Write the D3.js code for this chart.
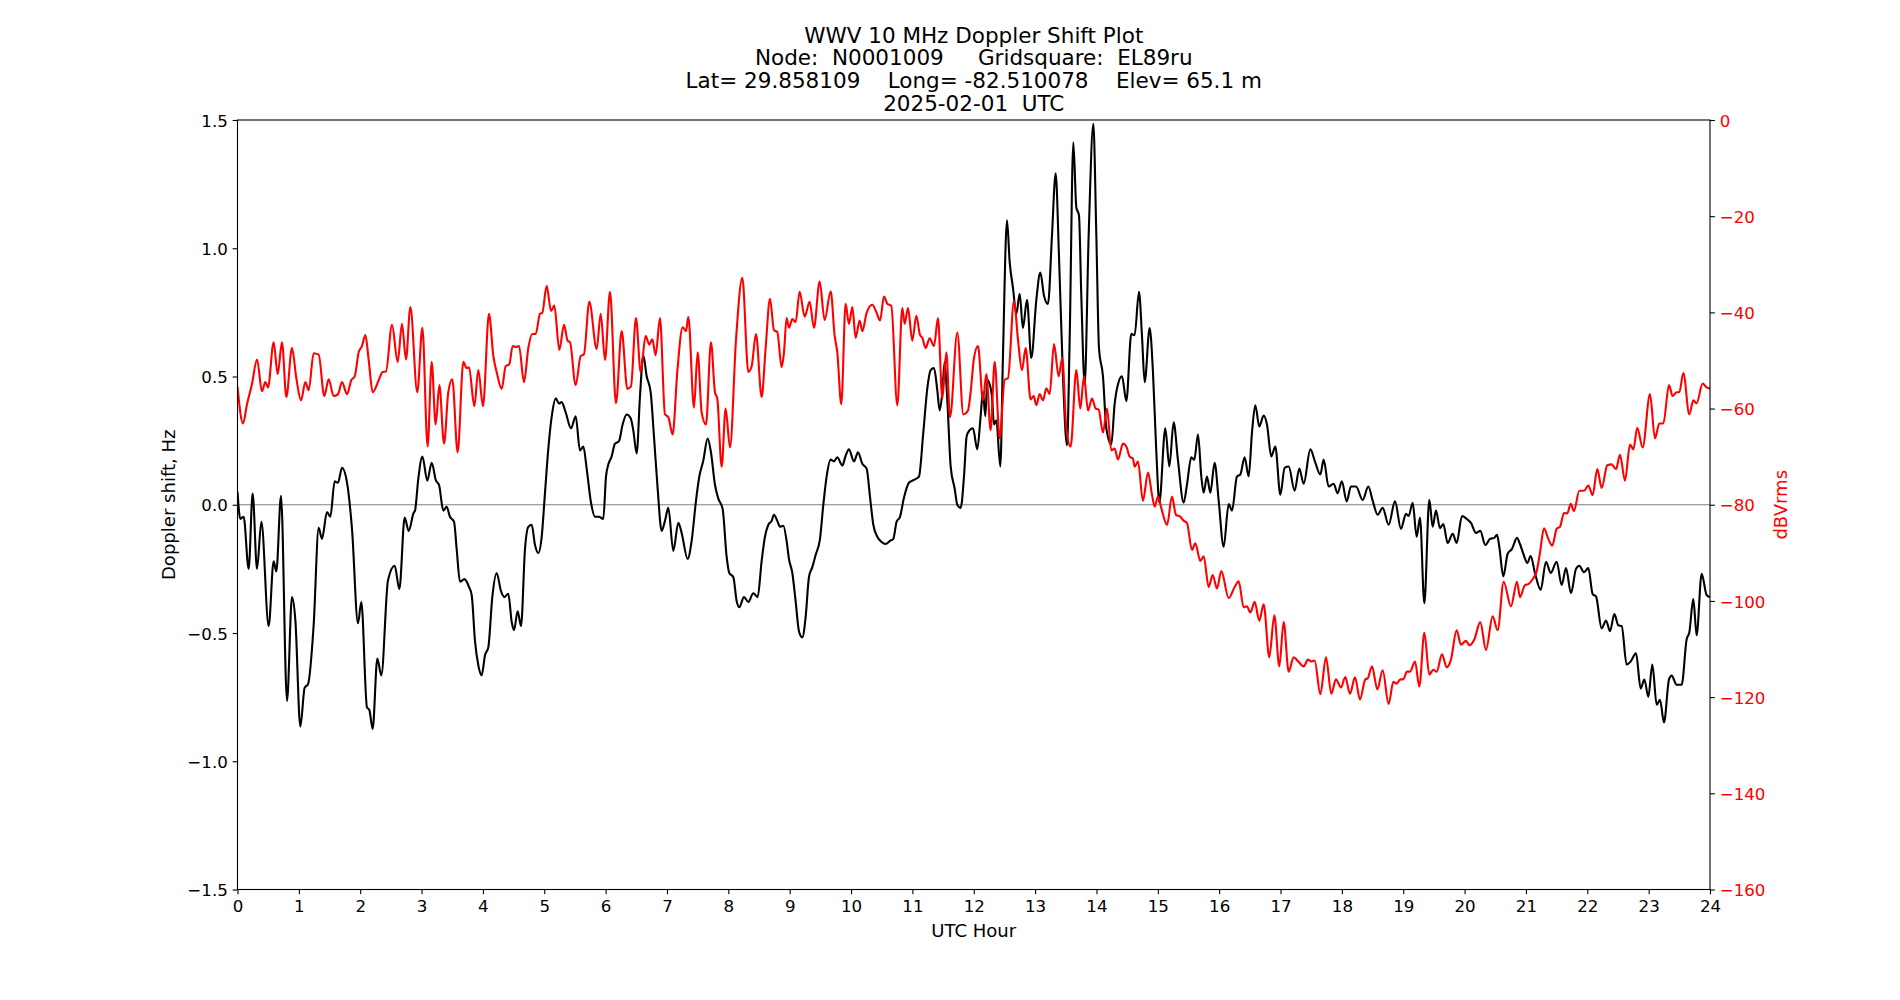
<!DOCTYPE html>
<html><head><meta charset="utf-8">
<script src="https://cdn.jsdelivr.net/npm/d3@7"></script>
<style>
body{margin:0;background:#fff;}
text{font-family:"DejaVu Sans",sans-serif;}
</style>
</head><body>
<svg id="chart" width="1900" height="1000"></svg>
<script>
// ---------------- data ----------------
const titleLines = [
  "WWV 10 MHz Doppler Shift Plot",
  "Node:  N0001009     Gridsquare:  EL89ru",
  "Lat= 29.858109    Long= -82.510078    Elev= 65.1 m",
  "2025-02-01  UTC"
];
const xLabel = "UTC Hour";
const leftLabel = "Doppler shift, Hz";
const rightLabel = "dBVrms";

const xTicks = [0,1,2,3,4,5,6,7,8,9,10,11,12,13,14,15,16,17,18,19,20,21,22,23,24];
const leftTicks = [-1.5,-1.0,-0.5,0.0,0.5,1.0,1.5];
const rightTicks = [-160,-140,-120,-100,-80,-60,-40,-20,0];

const dopplerHours = [
0.0,0.046,0.10,0.182,0.247,0.318,0.389,0.508,0.589,0.633,0.709,0.807,0.888,0.943,1.024,1.095,1.149,1.241,1.323,1.377,1.459,1.513,1.584,1.638,1.703,1.785,1.866,1.964,2.018,2.11,2.149,2.203,2.279,2.344,2.453,2.562,2.638,2.725,2.79,2.871,
2.893,2.947,3.013,3.094,3.165,3.235,3.284,3.355,3.409,3.463,3.529,3.572,3.626,3.697,3.773,3.817,3.871,3.925,3.98,4.034,4.088,4.153,4.224,4.295,4.349,4.414,4.469,4.507,4.566,4.621,4.686,4.74,4.795,4.849,4.903,4.958,5.012,5.066,5.131,5.186,5.24,5.283,5.349,5.436,5.512,5.582,5.637,5.691,5.762,5.827,5.892,
5.962,6.006,6.044,6.098,6.152,6.218,6.277,6.343,6.408,6.451,6.506,6.56,6.614,6.669,6.734,6.788,6.848,6.913,6.967,7.022,7.103,7.185,7.239,7.337,7.402,7.473,7.527,7.592,7.663,7.717,7.782,7.837,7.907,7.973,8.016,8.081,8.136,8.179,8.255,8.326,8.407,8.478,8.543,8.597,8.652,8.706,8.744,8.798,8.842,8.896,
8.95,8.988,9.043,9.097,9.151,9.206,9.26,9.314,9.369,9.423,9.494,9.548,9.602,9.668,9.722,9.776,9.858,9.912,9.966,10.048,10.113,10.184,10.254,10.309,10.363,10.428,10.493,10.564,10.635,10.689,10.743,10.798,10.863,10.944,11.026,11.107,11.178,11.243,11.298,11.352,11.406,11.444,11.488,11.526,11.569,11.624,11.689,11.732,11.787,11.841,11.884,
11.93,11.987,12.058,12.112,12.15,12.189,12.221,12.259,12.297,12.33,12.368,12.433,12.476,12.542,12.585,12.639,12.694,12.748,12.802,12.868,12.938,13.02,13.085,13.145,13.21,13.275,13.335,13.389,13.454,13.52,13.563,13.623,13.672,13.715,13.753,13.808,13.873,13.949,13.998,14.041,14.106,14.161,14.242,14.296,14.351,14.416,14.487,14.568,14.622,14.693,14.742,14.786,14.867,14.921,14.976,
15.025,15.122,15.188,15.258,15.329,15.421,15.475,15.546,15.595,15.655,15.709,15.747,15.801,15.856,15.926,15.992,16.073,16.155,16.209,16.29,16.345,16.415,16.481,16.535,16.589,16.654,16.725,16.779,16.85,16.915,16.997,17.067,17.133,17.23,17.306,17.377,17.486,17.567,17.649,17.703,17.784,17.866,
17.93,18.0,18.078,18.148,18.23,18.339,18.431,18.502,18.583,18.665,18.762,18.866,18.963,19.045,19.088,19.154,19.219,19.273,19.344,19.425,19.48,19.534,19.599,19.653,19.724,19.806,19.871,19.958,20.034,20.104,20.186,20.256,20.338,20.414,20.485,20.528,20.566,20.631,20.702,20.773,20.854,
20.903,20.957,21.023,21.077,21.147,21.24,21.327,21.403,21.501,21.582,21.653,21.734,21.816,21.87,21.946,22.017,22.087,22.142,22.234,22.305,22.37,22.441,22.506,22.56,22.642,22.707,22.794,22.87,22.93,22.995,23.06,23.131,23.185,23.25,23.332,23.375,23.456,23.538,23.619,23.663,23.728,23.782,23.864,23.945,24.0
];
const dopplerHz = [
0.05,-0.055,-0.047,-0.25,0.044,-0.25,-0.066,-0.473,-0.22,-0.26,0.035,-0.765,-0.36,-0.45,-0.865,-0.713,-0.70,-0.47,-0.09,-0.133,-0.028,-0.047,0.091,0.086,0.144,0.086,-0.094,-0.462,-0.379,-0.79,-0.80,-0.874,-0.60,-0.665,-0.294,-0.238,-0.329,-0.05,-0.102,-0.031,
-0.023,0.102,0.188,0.094,0.164,0.094,0.078,-0.023,-0.008,-0.047,-0.066,-0.172,-0.30,-0.29,-0.32,-0.352,-0.532,-0.626,-0.665,-0.587,-0.556,-0.36,-0.266,-0.337,-0.36,-0.347,-0.457,-0.489,-0.415,-0.473,-0.172,-0.086,-0.078,-0.157,-0.188,-0.125,0.047,0.219,0.36,0.415,0.395,0.40,0.36,0.298,0.345,0.212,0.227,0.141,0.008,-0.047,-0.047,
-0.055,0.11,0.157,0.188,0.238,0.248,0.313,0.352,0.337,0.29,0.20,0.423,0.583,0.501,0.439,0.266,0.063,-0.102,-0.063,-0.012,-0.18,-0.07,-0.11,-0.211,-0.141,0.016,0.11,0.172,0.258,0.204,0.078,0.024,-0.016,-0.204,-0.266,-0.282,-0.376,-0.399,-0.36,-0.379,-0.345,-0.36,-0.219,-0.125,-0.078,-0.063,-0.039,-0.063,-0.086,-0.082,
-0.141,-0.211,-0.266,-0.376,-0.493,-0.517,-0.438,-0.282,-0.243,-0.196,-0.133,0.0,0.11,0.176,0.169,0.185,0.153,0.191,0.216,0.169,0.204,0.16,0.141,0.031,-0.078,-0.125,-0.144,-0.153,-0.141,-0.133,-0.066,-0.047,0.028,0.086,0.097,0.11,0.282,0.454,0.525,0.533,0.446,0.368,0.439,0.556,0.407,0.149,0.063,0.0,-0.012,0.11,0.266,
0.29,0.298,0.216,0.345,0.439,0.345,0.486,0.47,0.423,0.313,0.329,0.149,0.58,1.109,0.948,0.846,0.744,0.822,0.689,0.799,0.572,0.799,0.905,0.815,0.783,1.05,1.292,0.971,0.501,0.232,0.642,1.413,1.159,1.128,0.815,0.47,1.05,1.485,1.05,0.611,0.501,0.298,0.235,0.392,0.47,0.501,0.404,0.666,0.661,0.83,0.658,0.478,0.689,0.517,0.204,
0.008,0.298,0.149,0.321,0.172,0.008,0.078,0.185,0.176,0.274,0.11,0.047,0.11,0.047,0.164,0.016,-0.164,0.003,-0.023,0.11,0.118,0.185,0.11,0.282,0.388,0.305,0.348,0.313,0.188,0.227,0.039,0.144,0.149,0.055,0.141,0.082,0.216,0.164,0.118,0.176,0.071,0.082,
0.045,0.091,0.013,0.071,0.071,0.019,0.071,0.016,-0.039,-0.012,-0.078,0.013,-0.094,-0.035,-0.044,0.008,-0.125,-0.05,-0.384,0.019,-0.086,-0.023,-0.091,-0.075,-0.149,-0.113,-0.149,-0.044,-0.055,-0.071,-0.11,-0.102,-0.157,-0.133,-0.129,-0.117,-0.164,-0.279,-0.191,-0.172,-0.129,
-0.153,-0.191,-0.227,-0.2,-0.266,-0.332,-0.222,-0.266,-0.222,-0.313,-0.247,-0.345,-0.25,-0.238,-0.263,-0.247,-0.348,-0.357,-0.482,-0.451,-0.493,-0.426,-0.47,-0.473,-0.623,-0.611,-0.579,-0.717,-0.681,-0.749,-0.623,-0.78,-0.76,-0.849,-0.681,-0.666,-0.702,-0.702,-0.525,-0.498,-0.368,-0.509,-0.269,-0.352,-0.36
];

const powerHours = [
0.0,0.090,0.155,0.236,0.318,0.399,0.454,0.497,0.589,0.655,0.725,0.796,0.888,0.959,1.035,1.106,1.16,1.241,1.323,1.415,1.486,1.567,1.638,1.703,1.785,1.855,1.91,1.975,2.029,2.084,2.138,2.203,2.301,2.366,2.42,2.518,2.611,2.681,2.746,2.817,
2.93,3.013,3.099,3.165,3.23,3.29,3.366,3.436,3.501,3.588,3.681,3.735,3.773,3.86,3.925,4.001,4.099,4.17,4.224,4.306,4.371,4.43,4.485,4.534,4.588,4.67,4.74,4.805,4.86,4.93,4.968,5.039,5.11,5.164,5.245,5.322,5.381,5.419,5.512,5.593,5.647,5.734,5.854,
5.92,5.99,6.071,6.169,6.261,6.354,6.413,6.495,6.571,6.652,6.712,6.761,6.815,6.886,6.967,7.022,7.092,7.168,7.255,7.31,7.348,7.44,7.5,7.565,7.636,7.717,7.782,7.82,7.891,7.956,8.027,8.125,8.228,8.326,8.38,8.451,8.543,8.608,8.679,8.744,8.798,8.869,
8.907,8.95,8.988,9.043,9.097,9.162,9.244,9.325,9.396,9.488,9.57,9.668,9.733,9.776,9.841,9.912,9.966,10.021,10.075,10.14,10.184,10.254,10.347,10.417,10.472,10.537,10.591,10.656,10.754,10.836,10.874,10.928,10.999,11.064,11.124,11.162,11.216,11.281,11.352,11.417,11.488,11.553,11.613,11.732,11.83,
11.906,11.949,12.004,12.069,12.15,12.205,12.275,12.341,12.422,12.504,12.558,12.656,12.721,12.786,12.846,12.927,12.976,13.02,13.074,13.128,13.183,13.237,13.308,13.384,13.443,13.509,13.579,13.672,13.737,13.797,13.862,13.927,13.987,14.036,14.106,14.172,14.242,14.296,14.351,14.432,14.487,14.541,14.595,14.622,14.677,14.758,14.84,
14.905,14.948,15.003,15.057,15.15,15.231,15.296,15.367,15.421,15.475,15.557,15.611,15.693,15.747,15.829,15.894,15.964,16.035,16.155,16.252,16.318,16.399,16.453,16.508,16.578,16.654,16.725,16.817,16.899,16.98,17.051,17.133,17.214,17.296,17.377,17.448,17.502,17.556,17.649,17.741,17.828,
17.904,17.985,18.056,18.132,18.214,18.295,18.382,18.42,18.491,18.578,18.665,18.762,18.839,18.893,18.953,19.001,19.061,19.11,19.192,19.262,19.344,19.425,19.49,19.545,19.632,19.708,19.778,19.871,19.941,20.023,20.077,20.159,20.256,20.349,20.457,20.539,20.637,20.756,20.854,
20.903,20.984,21.039,21.109,21.175,21.229,21.294,21.365,21.43,21.501,21.555,21.62,21.675,21.729,21.783,21.87,21.946,22.017,22.087,22.163,22.234,22.326,22.397,22.468,22.533,22.614,22.696,22.75,22.815,22.902,23.022,23.103,23.174,23.239,23.332,23.391,23.456,23.5,23.565,23.663,23.728,23.782,23.88,23.945,24.0
];
const powerDb = [
-55.5,-63.1,-59.1,-54.9,-49.8,-56.4,-54.5,-55.6,-46.2,-52.8,-46.2,-57.6,-47.4,-53.7,-58.3,-54.5,-56.2,-48.5,-48.8,-57.4,-53.9,-57.4,-57.0,-54.5,-57.0,-54.1,-53.3,-48.3,-47.0,-44.7,-49.9,-56.6,-54.1,-52.4,-52.3,-42.6,-50.3,-42.4,-49.8,-38.9,
-56.6,-43.2,-67.9,-50.3,-63.3,-55.1,-67.3,-56.6,-53.9,-69.1,-50.3,-51.6,-51.4,-59.5,-52.0,-59.5,-40.3,-49.1,-52.4,-55.9,-51.2,-50.8,-47.0,-47.2,-47.0,-54.5,-47.4,-44.5,-44.5,-40.3,-40.1,-34.5,-39.7,-38.6,-47.8,-42.6,-45.9,-46.2,-55.1,-49.1,-48.7,-37.8,-47.6,
-40.3,-49.9,-35.7,-58.9,-43.9,-55.9,-55.4,-41.2,-52.4,-44.9,-46.7,-45.6,-48.9,-41.2,-61.2,-61.8,-65.4,-52.4,-43.1,-43.9,-40.9,-59.8,-48.3,-60.8,-63.3,-46.2,-56.6,-57.9,-72.1,-60.0,-68.1,-45.7,-32.8,-52.4,-51.2,-44.5,-57.6,-47.4,-37.2,-43.7,-44.1,-51.4,
-48.3,-41.2,-43.2,-41.4,-42.0,-35.7,-40.9,-37.8,-43.2,-33.6,-41.6,-35.6,-44.9,-48.3,-59.1,-38.2,-42.4,-38.9,-45.3,-41.7,-43.9,-40.1,-38.4,-40.1,-41.7,-36.7,-38.2,-38.6,-59.3,-39.1,-42.4,-39.1,-45.9,-40.7,-44.7,-45.3,-47.4,-45.4,-47.0,-41.2,-57.9,-48.3,-61.8,-44.2,-61.2,
-60.4,-56.6,-49.5,-47.0,-58.3,-52.8,-64.5,-50.3,-66.2,-54.0,-53.7,-37.6,-45.7,-52.0,-47.4,-58.1,-57.4,-59.3,-57.0,-58.3,-55.8,-57.0,-46.6,-53.3,-49.5,-64.1,-67.9,-52.0,-60.0,-53.3,-60.4,-57.9,-60.0,-60.2,-65.0,-60.0,-68.7,-68.3,-70.6,-67.3,-67.9,-70.0,-70.4,-72.1,-71.0,-79.2,-73.3,
-77.9,-80.4,-78.3,-80.7,-84.2,-78.3,-82.1,-82.5,-83.3,-83.8,-89.4,-88.0,-91.7,-90.7,-97.1,-94.6,-97.4,-93.8,-99.4,-97.1,-95.9,-101.3,-101.1,-102.4,-100.2,-104.1,-100.7,-111.7,-103.0,-113.6,-104.4,-114.7,-111.7,-112.7,-113.6,-112.2,-112.6,-112.4,-119.4,-111.7,-119.3,
-116.3,-118.0,-115.8,-119.3,-115.9,-120.5,-116.3,-116.1,-113.6,-118.4,-114.4,-121.4,-116.8,-117.2,-116.3,-116.3,-114.7,-114.7,-112.6,-117.8,-106.6,-115.3,-114.3,-114.7,-111.1,-113.8,-112.2,-106.1,-109.1,-108.3,-109.2,-108.0,-104.4,-110.2,-103.2,-106.1,-96.0,-101.1,-96.0,
-99.2,-96.7,-96.5,-95.5,-93.8,-90.0,-84.9,-87.1,-88.5,-85.0,-84.6,-81.7,-81.8,-79.8,-81.3,-77.1,-77.1,-76.0,-78.0,-72.6,-76.5,-71.8,-71.6,-72.6,-69.6,-75.0,-67.5,-68.5,-64.0,-68.1,-57.0,-66.2,-63.1,-63.1,-55.1,-57.4,-56.6,-56.6,-52.6,-61.2,-58.3,-58.9,-54.8,-55.6,-55.8
];

// ---------------- layout ----------------
const W = 1900, H = 1000;
const plot = {left: 237.5, right: 1710, top: 120, bottom: 889.5};
const tickFont = 16.67, labelFont = 18.06, titleFont = 21.5;
const tickLen = 4.86, tickPad = 4.86;

const svg = d3.select("#chart");
svg.append("rect").attr("width", W).attr("height", H).attr("fill", "#fff");

const x = d3.scaleLinear().domain([0, 24]).range([plot.left, plot.right]);
const yL = d3.scaleLinear().domain([-1.5, 1.5]).range([plot.bottom, plot.top]);
const yR = d3.scaleLinear().domain([-160, 0]).range([plot.bottom, plot.top]);

svg.append("clipPath").attr("id", "clip").append("rect")
  .attr("x", plot.left).attr("y", plot.top)
  .attr("width", plot.right - plot.left).attr("height", plot.bottom - plot.top);

// zero line
svg.append("line")
  .attr("x1", x(0)).attr("x2", x(24))
  .attr("y1", yL(0)).attr("y2", yL(0))
  .attr("stroke", "#808080").attr("stroke-width", 1.1);

const g = svg.append("g").attr("clip-path", "url(#clip)");

const dopplerLine = d3.line()
  .x((d, i) => x(dopplerHours[i]))
  .y(d => yL(d))
  .curve(d3.curveMonotoneX);
g.append("path").datum(dopplerHz)
  .attr("d", dopplerLine)
  .attr("fill", "none").attr("stroke", "#000").attr("stroke-width", 2.1)
  .attr("stroke-linejoin", "round");

const powerLine = d3.line()
  .x((d, i) => x(powerHours[i]))
  .y(d => yR(d))
  .curve(d3.curveMonotoneX);
g.append("path").datum(powerDb)
  .attr("d", powerLine)
  .attr("fill", "none").attr("stroke", "#ff0000").attr("stroke-width", 2.1)
  .attr("stroke-linejoin", "round");

// frame
svg.append("rect")
  .attr("x", plot.left).attr("y", plot.top)
  .attr("width", plot.right - plot.left).attr("height", plot.bottom - plot.top)
  .attr("fill", "none").attr("stroke", "#000").attr("stroke-width", 1.1);

// axes
function styleAxis(sel, color) {
  sel.select(".domain").remove();
  sel.selectAll(".tick line").attr("stroke", "#000").attr("stroke-width", 1.1);
  sel.selectAll(".tick text")
    .attr("fill", color)
    .style("font-family", '"DejaVu Sans", sans-serif')
    .style("font-size", tickFont + "px");
}

const xAxis = svg.append("g")
  .attr("transform", `translate(0,${plot.bottom})`)
  .call(d3.axisBottom(x).tickValues(xTicks).tickFormat(d3.format("d"))
    .tickSize(tickLen).tickPadding(tickPad).tickSizeOuter(0));
styleAxis(xAxis, "#000");
xAxis.selectAll(".tick text").attr("dy", null).attr("y", tickLen + tickPad + 12.7);

const yAxisL = svg.append("g")
  .attr("transform", `translate(${plot.left},0)`)
  .call(d3.axisLeft(yL).tickValues(leftTicks).tickFormat(d3.format(".1f"))
    .tickSize(tickLen).tickPadding(tickPad).tickSizeOuter(0));
styleAxis(yAxisL, "#000");
yAxisL.selectAll(".tick text").attr("dy", "6.1");

const yAxisR = svg.append("g")
  .attr("transform", `translate(${plot.right},0)`)
  .call(d3.axisRight(yR).tickValues(rightTicks).tickFormat(d3.format("d"))
    .tickSize(tickLen).tickPadding(tickPad).tickSizeOuter(0));
styleAxis(yAxisR, "#ff0000");
yAxisR.selectAll(".tick text").attr("dy", "6.1");

// axis labels
const cx = (plot.left + plot.right) / 2;
const cy = (plot.top + plot.bottom) / 2;
svg.append("text").text(xLabel)
  .attr("x", cx).attr("y", 936.5)
  .attr("text-anchor", "middle").attr("fill", "#000")
  .style("font-size", labelFont + "px");
svg.append("text").text(leftLabel)
  .attr("transform", `translate(174.5,${cy}) rotate(-90)`)
  .attr("text-anchor", "middle").attr("fill", "#000")
  .style("font-size", labelFont + "px");
svg.append("text").text(rightLabel)
  .attr("transform", `translate(1787,${cy}) rotate(-90)`)
  .attr("text-anchor", "middle").attr("fill", "#ff0000")
  .style("font-size", labelFont + "px");

// title
const titleBaselines = [42.5, 65.4, 88.2, 111.2];
svg.selectAll("text.title").data(titleLines).enter().append("text")
  .attr("class", "title")
  .attr("x", cx).attr("y", (d, i) => titleBaselines[i])
  .attr("text-anchor", "middle").attr("fill", "#000")
  .style("font-size", titleFont + "px")
  .style("white-space", "pre")
  .attr("xml:space", "preserve")
  .text(d => d);
</script>
</body></html>
